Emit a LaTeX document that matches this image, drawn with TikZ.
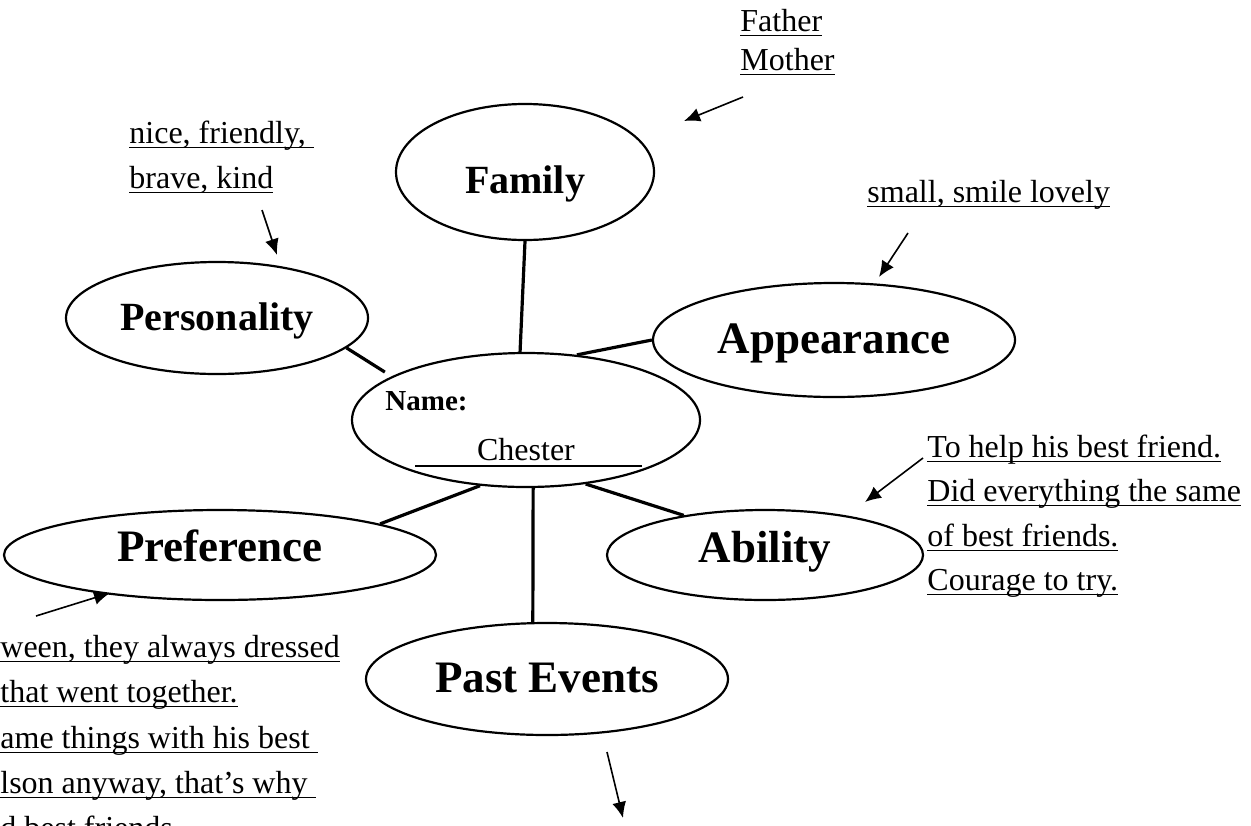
\documentclass[tikz,border=0pt]{standalone}
\usepackage{fontspec}
\setmainfont{Liberation Serif}
\usetikzlibrary{arrows.meta,shapes.geometric}

% underlined note text, Word style (line through the descenders)
\newcommand{\uln}[1]{\setbox0=\hbox{#1}\rlap{\rule[-0.16em]{\wd0}{0.05em}}\box0}

\tikzset{
    bubble/.style 2 args={draw, ellipse, line width=1.1pt, inner sep=0pt,
        minimum width=#1, minimum height=#2},
    lift/.style={text height=#1, text depth=0pt},
    topic/.style={font=\bfseries\fontsize{22.5}{27}\selectfont},
    smalltopic/.style={font=\bfseries\fontsize{20}{24}\selectfont},
    link/.style={line width=1.6pt},
    pointer/.style={-{Latex[length=8pt,width=7pt]}, line width=0.8pt},
    note/.style={anchor=base west, inner sep=0pt, font=\fontsize{16}{20}\selectfont},
}

\begin{document}
\begin{tikzpicture}[x=0.5pt, y=-0.5pt]
    \useasboundingbox (0,0) rectangle (1251,825);

    % Topic bubbles
    \node[bubble={129pt}{68pt}, smalltopic, lift=21pt] (family) at (525,172) {Family};
    \node[bubble={151pt}{56pt}, smalltopic, lift=12pt] (personality) at (217,318) {Personality};
    \node[bubble={181pt}{57pt}, topic, lift=13pt] (appearance) at (834,340) {Appearance};
    \node[bubble={216pt}{45pt}, topic, lift=6pt] (preference) at (220,555) {Preference};
    \node[bubble={158pt}{45pt}, topic, lift=7pt] (ability) at (765,555) {Ability};
    \node[bubble={181pt}{56pt}, topic, lift=13pt] (pastev) at (547,679) {Past Events};

    % Centre bubble with the name
    \node[bubble={174pt}{67pt}] (name) at (526,420) {};
    \node[anchor=base west, inner sep=0pt, font=\bfseries\fontsize{14.5}{17}\selectfont] (namelabel) at (385,410) {Name:};
    \node[anchor=base, inner sep=0pt, font=\fontsize{16}{20}\selectfont] (chester) at (526,460) {Chester};
    \draw[line width=0.8pt] (415,466) -- (642,466);

    % Spokes from the centre
    \draw[link] (family.south) -- (name.95);
    \draw[link, shorten >=4pt] (personality.-13) -- (name.162);
    \draw[link] (name.52) -- (appearance.west);
    \draw[link] (name.235) -- (preference.11);
    \draw[link] (name.-84) -- (pastev.104);
    \draw[link] (name.-47) -- (ability.154);

    % Notes
    \node[note] (father) at (740,31) {\uln{Father}};
    \node[note] (mother) at (740,70) {\uln{Mother}};
    \node[note] (nice) at (129,143) {\uln{nice, friendly,\ }};
    \node[note] (brave) at (129,188) {\uln{brave, kind}};
    \node[note] (small) at (867,202) {\uln{small, smile lovely}};
    \node[note] (help) at (927,457) {\uln{To help his best friend.}};
    \node[note] (didall) at (927,501) {\uln{Did everything the same}};
    \node[note] (bestfr) at (927,546) {\uln{of best friends.}};
    \node[note] (courage) at (927,590) {\uln{Courage to try.}};
    \node[note] (ween) at (0,657) {\uln{ween, they always dressed}};
    \node[note] (together) at (0,702) {\uln{that went together.}};
    \node[note] (things) at (0,748) {\uln{ame things with his best\ }};
    \node[note] (anyway) at (0,793) {\uln{lson anyway, that’s why\ }};
    \node[note] (friends) at (0,838) {\uln{d best friends}};

    % Pointers from the notes
    \coordinate (famtail) at (743,97);  \coordinate (famtip) at (684,121);
    \coordinate (pertail) at (262,210); \coordinate (pertip) at (277,255);
    \coordinate (apptail) at (908,233); \coordinate (apptip) at (879,277);
    \coordinate (abltail) at (923,458); \coordinate (abltip) at (865,502);
    \coordinate (preftail) at (36,616); \coordinate (preftip) at (110,593);
    \coordinate (pasttail) at (607,752); \coordinate (pasttip) at (623,818);
    \draw[pointer] (famtail) -- (famtip);
    \draw[pointer] (pertail) -- (pertip);
    \draw[pointer] (apptail) -- (apptip);
    \draw[pointer] (abltail) -- (abltip);
    \draw[pointer] (preftail) -- (preftip);
    \draw[pointer] (pasttail) -- (pasttip);
\end{tikzpicture}
\end{document}
